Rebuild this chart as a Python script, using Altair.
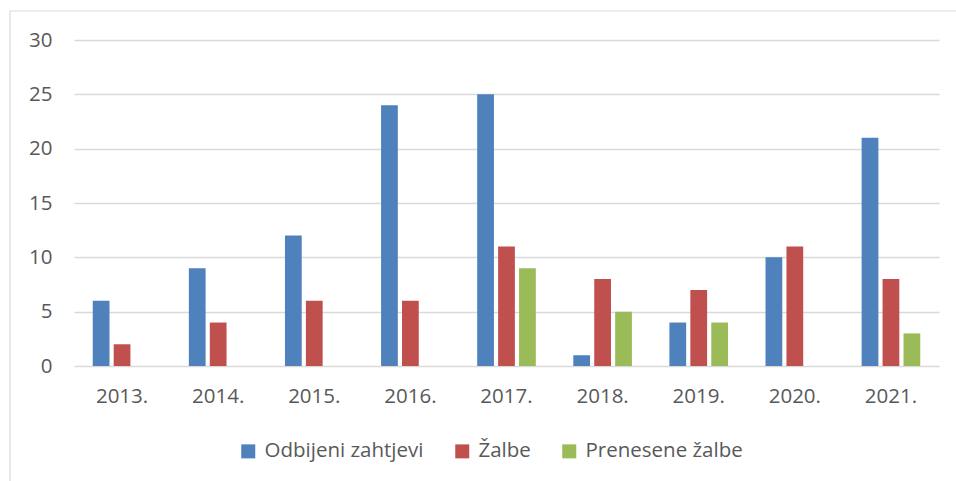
import altair as alt
import pandas as pd

years = ["2013.", "2014.", "2015.", "2016.", "2017.", "2018.", "2019.", "2020.", "2021."]
series = ["Odbijeni zahtjevi", "Žalbe", "Prenesene žalbe"]
odbijeni = [6, 9, 12, 24, 25, 1, 4, 10, 21]
zalbe = [2, 4, 6, 6, 11, 8, 7, 11, 8]
prenesene = [0, 0, 0, 0, 9, 5, 4, 0, 3]
colors = ["#4F81BD", "#C0504D", "#9BBB59"]

rows = []
for i, y in enumerate(years):
    for s, vals in zip(series, [odbijeni, zalbe, prenesene]):
        rows.append({"Godina": y, "Serija": s, "Vrijednost": vals[i]})
df = pd.DataFrame(rows)

FONT = "Open Sans"
TXT = "#595959"
FS = 20.5

bars = alt.Chart(df).mark_bar().encode(
    x=alt.X("Godina:N", sort=years, title=None,
            scale=alt.Scale(paddingInner=0.39, paddingOuter=0.195),
            axis=alt.Axis(labelAngle=0, domain=False, ticks=False, labelPadding=20,
                          labelFontSize=FS, labelColor=TXT, labelFont=FONT, grid=False)),
    xOffset=alt.XOffset("Serija:N", sort=series,
                        scale=alt.Scale(paddingInner=0.2, paddingOuter=0)),
    y=alt.Y("Vrijednost:Q", title=None,
            scale=alt.Scale(domain=[0, 30], nice=False),
            axis=alt.Axis(values=[0, 5, 10, 15, 20, 25, 30], domain=False, ticks=False,
                          labelPadding=22, labelFontSize=FS, labelColor=TXT, labelFont=FONT,
                          grid=True, gridColor="#d9d9d9", gridWidth=1.3)),
    color=alt.Color("Serija:N", sort=series, title=None,
                    scale=alt.Scale(domain=series, range=colors),
                    legend=alt.Legend(orient="none", direction="horizontal",
                                      legendX=164, legendY=401,
                                      symbolType="square", symbolSize=196,
                                      symbolStrokeWidth=0, labelOffset=6,
                                      columnPadding=28,
                                      labelFontSize=FS, labelColor=TXT, labelFont=FONT)),
)

border = alt.Chart(alt.Data(values=[{"a": 1}])).mark_rect(
    fill=None, stroke="#d9d9d9", strokeWidth=1.2
).encode(
    x=alt.value(-64), y=alt.value(-29), x2=alt.value(900), y2=alt.value(460)
)

chart = alt.layer(border, bars).properties(
    width=865, height=326,
    padding={"left": 74, "top": 40, "right": 17, "bottom": 115},
    autosize=alt.AutoSizeParams(type="none"),
).configure_view(stroke=None)

chart.save("out.html", embed_options={"renderer": "svg", "actions": False})
